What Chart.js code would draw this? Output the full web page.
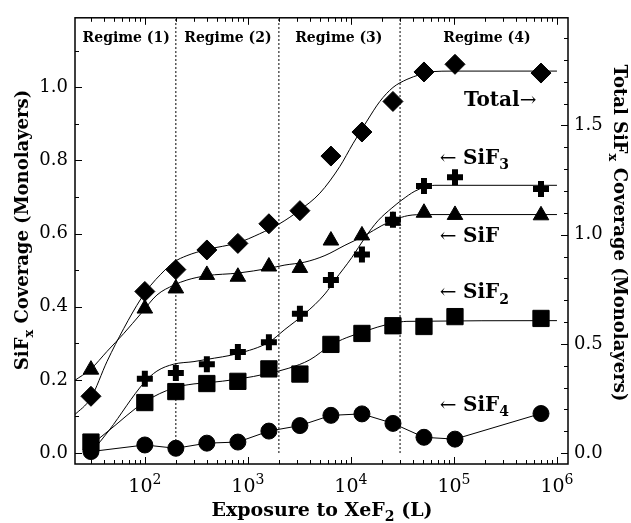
<!DOCTYPE html>
<html>
<head>
<meta charset="utf-8">
<script src="https://cdn.jsdelivr.net/npm/chart.js@4.4.1/dist/chart.umd.min.js"></script>
<style>
  html, body { margin: 0; padding: 0; background: #fff; }
  #wrap { width: 631px; height: 523px; }
</style>
</head>
<body>
<div id="wrap"><canvas id="myChart" width="631" height="523"></canvas></div>
<script>
// XeF2 exposure (L) at each measurement
const exposure = [30, 100, 200, 400, 800, 1600, 3200, 6400, 12800, 25600, 51200, 102400, 700000];

// measured coverage per species (left axis, monolayers)
const sifCov  = [0.228, 0.395, 0.450, 0.487, 0.482, 0.510, 0.506, 0.581, 0.595, 0.635, 0.657, 0.651, 0.650];
const sif2Cov = [0.030, 0.138, 0.168, 0.190, 0.196, 0.230, 0.216, 0.297, 0.327, 0.348, 0.346, 0.373, 0.368];
const sif3Cov = [0.010, 0.203, 0.219, 0.243, 0.276, 0.303, 0.381, 0.473, 0.543, 0.638, 0.730, 0.754, 0.722];
const sif4Cov = [0.004, 0.022, 0.013, 0.027, 0.030, 0.060, 0.075, 0.103, 0.107, 0.081, 0.043, 0.038, 0.108];
// total coverage (right axis, monolayers)
const totalCov = [0.26, 0.74, 0.84, 0.93, 0.96, 1.05, 1.11, 1.36, 1.47, 1.61, 1.745, 1.78, 1.74];

// fitted curves
const totalFitX = [20.5, 30, 43, 62.5, 91.5, 114, 143, 191, 256, 400, 800, 1300, 2047, 3200, 5000, 7800, 10450, 14300, 19100, 25600, 35000, 46800, 58500, 100000, 1000000];
const totalFitY = [0.172, 0.253, 0.42, 0.571, 0.706, 0.768, 0.819, 0.874, 0.904, 0.932, 0.963, 1.004, 1.051, 1.113, 1.19, 1.312, 1.416, 1.52, 1.61, 1.674, 1.711, 1.733, 1.746, 1.749, 1.749];
const sifFitX = [20.5, 30, 43, 62.5, 91.5, 131, 191, 256, 400, 800, 1600, 2290, 3570, 5600, 8750, 13700, 20000, 26700, 35700, 52300, 1000000];
const sifFitY = [0.197, 0.23, 0.278, 0.327, 0.381, 0.432, 0.459, 0.473, 0.485, 0.492, 0.505, 0.514, 0.522, 0.54, 0.568, 0.595, 0.622, 0.638, 0.649, 0.652, 0.652];
const sif3FitX = [30, 45, 98, 131, 191, 300, 400, 800, 1600, 2290, 3570, 5600, 7000, 10240, 13700, 18300, 25000, 31300, 41800, 52300, 65400, 1000000];
const sif3FitY = [0.0, 0.062, 0.192, 0.224, 0.243, 0.25, 0.256, 0.272, 0.303, 0.338, 0.381, 0.435, 0.473, 0.535, 0.589, 0.635, 0.67, 0.692, 0.716, 0.727, 0.732, 0.732];
const sif2FitX = [30, 45, 100, 191, 300, 400, 800, 1600, 2500, 4000, 6400, 9000, 12800, 18000, 25600, 35000, 1000000];
const sif2FitY = [0.022, 0.062, 0.14, 0.178, 0.189, 0.192, 0.202, 0.218, 0.232, 0.255, 0.295, 0.315, 0.33, 0.344, 0.355, 0.36, 0.362];

// regime boundaries (L)
const regimeBounds = [200, 2000, 30000];
const regimeNames = ['Regime (1)', 'Regime (2)', 'Regime (3)', 'Regime (4)'];
const regimeLabelX = [66, 640, 7640, 209000];

const leftTicks = [0, 0.2, 0.4, 0.6, 0.8, 1.0];
const rightTicks = [0, 0.5, 1.0, 1.5];
const xTickExp = [2, 3, 4, 5, 6];

const FONT = '"DejaVu Serif", serif';
const pts = (xs, ys) => xs.map((x, i) => ({ x: x, y: ys[i] }));

function drawRich(ctx, parts, x, y, size, bold, align) {
  const fontFor = p => (bold && p[1] !== 'plain' ? 'bold ' : '') +
    (p[1] === 'sub' || p[1] === 'sup' ? Math.round(size * 0.72) : size) + 'px ' + FONT;
  let total = 0;
  parts.forEach(p => { ctx.font = fontFor(p); total += ctx.measureText(p[0]).width; });
  let cx = align === 'center' ? x - total / 2 : align === 'right' ? x - total : x;
  ctx.textAlign = 'left';
  ctx.textBaseline = 'alphabetic';
  parts.forEach(p => {
    ctx.font = fontFor(p);
    const dy = p[1] === 'sub' ? size * 0.28 : p[1] === 'sup' ? -size * 0.42 : 0;
    ctx.fillText(p[0], cx, y + dy);
    cx += ctx.measureText(p[0]).width;
  });
}

const framePlugin = {
  id: 'frame',
  afterDatasetsDraw(chart) {
    const { ctx, chartArea: a, scales } = chart;
    const x = scales.x, yL = scales.y, yR = scales.y2;
    ctx.save();
    ctx.strokeStyle = '#000';
    ctx.fillStyle = '#000';
    ctx.lineWidth = 1.5;
    ctx.strokeRect(a.left, a.top, a.right - a.left, a.bottom - a.top);

    // inward tick marks
    ctx.lineWidth = 1;
    ctx.beginPath();
    for (let d = 1; d <= 6; d++) {
      for (let m = 1; m <= 9; m++) {
        const v = m * Math.pow(10, d);
        if (v < x.min || v > x.max) continue;
        const px = Math.round(x.getPixelForValue(v)) + 0.5;
        const len = m === 1 ? 7 : 4;
        ctx.moveTo(px, a.bottom); ctx.lineTo(px, a.bottom - len);
        ctx.moveTo(px, a.top); ctx.lineTo(px, a.top + len);
      }
    }
    for (let i = 0; i <= 11; i++) {
      const py = Math.round(yL.getPixelForValue(i / 10)) + 0.5;
      ctx.moveTo(a.left, py); ctx.lineTo(a.left + (i % 2 === 0 ? 7 : 4), py);
    }
    for (let i = 0; i <= 19; i++) {
      const py = Math.round(yR.getPixelForValue(i / 10)) + 0.5;
      ctx.moveTo(a.right, py); ctx.lineTo(a.right - (i % 5 === 0 ? 7 : 4), py);
    }
    ctx.stroke();

    // decade labels
    xTickExp.forEach(e => {
      const px = x.getPixelForValue(Math.pow(10, e));
      drawRich(ctx, [['10', 'plain'], [String(e), 'sup']], px, 492, 19, false, 'center');
    });

    // axis titles
    drawRich(ctx, [['Exposure to XeF'], ['2', 'sub'], [' (L)']], 322, 516, 19, true, 'center');
    ctx.save();
    ctx.translate(22, 230);
    ctx.rotate(-Math.PI / 2);
    drawRich(ctx, [['SiF'], ['x', 'sub'], [' Coverage (Monolayers)']], 0, 6, 18, true, 'center');
    ctx.restore();
    ctx.save();
    ctx.translate(620, 233);
    ctx.rotate(Math.PI / 2);
    drawRich(ctx, [['Total SiF'], ['x', 'sub'], [' Coverage (Monolayers)']], 0, 6, 18, true, 'center');
    ctx.restore();

    // regime headings
    regimeNames.forEach((name, i) => {
      drawRich(ctx, [[name]], x.getPixelForValue(regimeLabelX[i]), yL.getPixelForValue(1.138) + 5, 14, true, 'center');
    });

    // series labels
    const lx = x.getPixelForValue(73000);
    drawRich(ctx, [['Total'], ['\u2192', 'plain']], x.getPixelForValue(125000), yL.getPixelForValue(0.967) + 7, 20, true, 'left');
    drawRich(ctx, [['\u2190 ', 'plain'], ['SiF'], ['3', 'sub']], lx, yL.getPixelForValue(0.81) + 7, 20, true, 'left');
    drawRich(ctx, [['\u2190 ', 'plain'], ['SiF']], lx, yL.getPixelForValue(0.597) + 7, 20, true, 'left');
    drawRich(ctx, [['\u2190 ', 'plain'], ['SiF'], ['2', 'sub']], lx, yL.getPixelForValue(0.443) + 7, 20, true, 'left');
    drawRich(ctx, [['\u2190 ', 'plain'], ['SiF'], ['4', 'sub']], lx, yL.getPixelForValue(0.135) + 7, 20, true, 'left');
    ctx.restore();
  }
};

function fitLine(xs, ys, axis) {
  return {
    data: pts(xs, ys), yAxisID: axis, borderColor: '#000', borderWidth: 1,
    pointRadius: 0, cubicInterpolationMode: 'monotone', fill: false, order: 3
  };
}
function markers(ys, axis, style, radius, bw) {
  return {
    data: pts(exposure, ys), yAxisID: axis, showLine: false, pointStyle: style,
    pointRadius: radius, pointBackgroundColor: '#000', pointBorderColor: '#000',
    pointBorderWidth: bw, order: 1
  };
}

const datasets = [
  fitLine(totalFitX, totalFitY, 'y2'),
  fitLine(sifFitX, sifFitY, 'y'),
  fitLine(sif3FitX, sif3FitY, 'y'),
  fitLine(sif2FitX, sif2FitY, 'y'),
  {
    data: pts(exposure, sif4Cov), yAxisID: 'y', borderColor: '#000', borderWidth: 1,
    pointStyle: 'circle', pointRadius: 8, pointBackgroundColor: '#000', pointBorderColor: '#000',
    tension: 0, order: 1
  },
  markers(totalCov, 'y2', 'rectRot', 10, 1),
  markers(sifCov, 'y', 'triangle', 9, 1),
  markers(sif2Cov, 'y', 'rect', 11.5, 1),
  markers(sif3Cov, 'y', 'cross', 8, 6)
];
regimeBounds.forEach(b => {
  datasets.push({
    data: [{ x: b, y: 0 }, { x: b, y: 1.19 }], yAxisID: 'y', borderColor: '#000',
    borderWidth: 1, borderDash: [2, 2], pointRadius: 0, order: 4
  });
});

const ctx = document.getElementById('myChart').getContext('2d');
const myChart = new Chart(ctx, {
  type: 'line',
  data: { datasets: datasets },
  options: {
    responsive: false,
    animation: false,
    devicePixelRatio: 1,
    layout: { padding: { top: 12, left: 0, right: 0, bottom: 0 } },
    plugins: { legend: { display: false }, tooltip: { enabled: false } },
    scales: {
      x: {
        type: 'logarithmic', min: 21, max: 1.28e6, position: 'bottom',
        ticks: { display: false }, grid: { display: false, drawTicks: false }, border: { display: false },
        afterFit: s => { s.height = 59; }
      },
      y: {
        type: 'linear', min: -0.03, max: 1.19, position: 'left',
        afterBuildTicks: s => { s.ticks = leftTicks.map(v => ({ value: v })); },
        ticks: { color: '#000', padding: 7, font: { family: 'DejaVu Serif', size: 18 }, callback: v => v.toFixed(1) },
        grid: { display: false, drawTicks: false }, border: { display: false },
        afterFit: s => { s.width = 75; }
      },
      y2: {
        type: 'linear', min: -0.05, max: 1.993, position: 'right',
        afterBuildTicks: s => { s.ticks = rightTicks.map(v => ({ value: v })); },
        ticks: { color: '#000', padding: 6, font: { family: 'DejaVu Serif', size: 18 }, callback: v => v.toFixed(1) },
        grid: { display: false, drawTicks: false }, border: { display: false },
        afterFit: s => { s.width = 63; }
      }
    }
  },
  plugins: [framePlugin]
});
</script>
</body>
</html>
